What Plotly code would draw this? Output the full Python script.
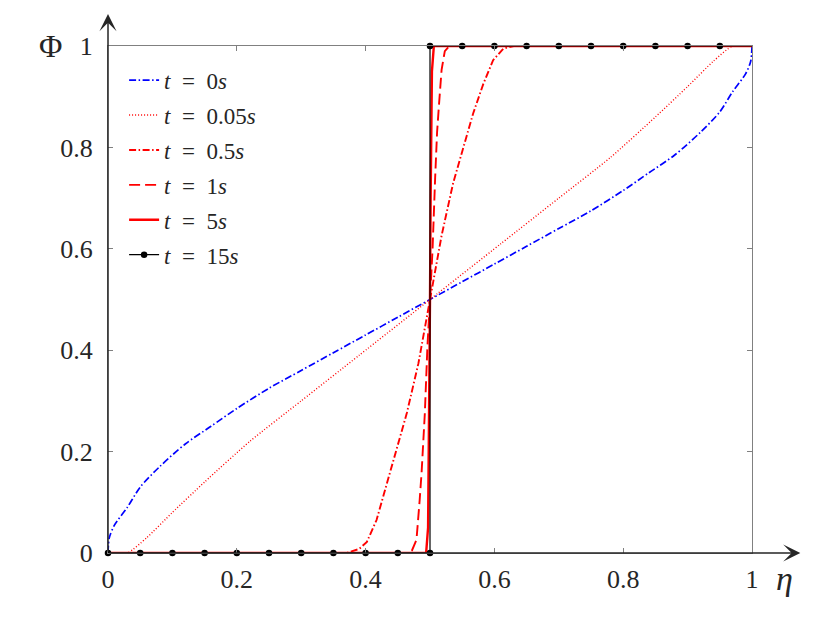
import plotly.graph_objects as go

# profiles of phi along eta
eta_t0 = [0, 0.002, 0.01, 0.03, 0.05, 0.08, 0.12, 0.16, 0.2, 0.25, 0.3, 0.35, 0.4, 0.45, 0.5,
          0.55, 0.6, 0.65, 0.7, 0.75, 0.8, 0.84, 0.88, 0.92, 0.95, 0.97, 0.99, 0.998, 1]
phi_t0 = [0, 0.03, 0.055, 0.09, 0.13, 0.17, 0.215, 0.25, 0.285, 0.325, 0.36, 0.395, 0.43, 0.465, 0.5,
          0.535, 0.57, 0.605, 0.64, 0.675, 0.715, 0.75, 0.785, 0.83, 0.87, 0.91, 0.945, 0.97, 1]

eta_t005 = [0, 0.03, 0.06, 0.1, 0.15, 0.22, 0.3, 0.39, 0.5, 0.61, 0.7, 0.78, 0.85, 0.9, 0.94, 0.97, 1]
phi_t005 = [0, 0, 0.03, 0.08, 0.14, 0.22, 0.3, 0.39, 0.5, 0.61, 0.7, 0.78, 0.86, 0.92, 0.97, 1, 1]

eta_t05 = [0, 0.37, 0.39, 0.402, 0.417, 0.435, 0.45, 0.464, 0.482, 0.5, 0.518, 0.536, 0.552,
           0.567, 0.583, 0.598, 0.614, 0.63, 0.65, 1]
phi_t05 = [0, 0, 0.008, 0.022, 0.065, 0.144, 0.21, 0.276, 0.374, 0.5, 0.626, 0.73, 0.8,
           0.867, 0.926, 0.972, 0.995, 1, 1, 1]

eta_t1 = [0, 0.465, 0.472, 0.479, 0.484, 0.487, 0.492, 0.496, 0.5, 0.504, 0.508, 0.511, 0.514,
          0.518, 0.523, 0.53, 1]
phi_t1 = [0, 0, 0.005, 0.026, 0.105, 0.16, 0.276, 0.407, 0.5, 0.6, 0.74, 0.83, 0.885,
          0.953, 0.99, 1, 1]

eta_t5 = [0, 0.494, 0.497, 0.499, 0.5, 0.501, 0.503, 0.506, 1]
phi_t5 = [0, 0, 0.05, 0.3, 0.5, 0.7, 0.95, 1, 1]

eta_t15 = [0, 0.05, 0.1, 0.15, 0.2, 0.25, 0.3, 0.35, 0.4, 0.45, 0.5,
           0.5, 0.55, 0.6, 0.65, 0.7, 0.75, 0.8, 0.85, 0.9, 0.95]
phi_t15 = [0, 0, 0, 0, 0, 0, 0, 0, 0, 0, 0,
           1, 1, 1, 1, 1, 1, 1, 1, 1, 1]
eta_t15_end = [0.95, 1]
phi_t15_end = [1, 1]

tick_vals = [0, 0.2, 0.4, 0.6, 0.8, 1]
tick_text = ['0', '0.2', '0.4', '0.6', '0.8', '1']
times = ['0', '0.05', '0.5', '1', '5', '15']

serif = 'Liberation Serif'
labels = ['<i>t</i>  =  %s<i>s</i>' % t for t in times]

fig = go.Figure()

fig.add_trace(go.Scatter(x=eta_t0, y=phi_t0, mode='lines', name=labels[0],
                         line=dict(color='#0000ff', width=1.7, dash='7px,2.5px,1.5px,2.5px',
                                   shape='spline', smoothing=0.8),
                         legendgroup='a'))
fig.add_trace(go.Scatter(x=eta_t005, y=phi_t005, mode='lines', name=labels[1],
                         line=dict(color='#ff0000', width=1.4, dash='1px,2px',
                                   shape='spline', smoothing=0.6),
                         legendgroup='b'))
fig.add_trace(go.Scatter(x=eta_t05, y=phi_t05, mode='lines', name=labels[2],
                         line=dict(color='#ff0000', width=1.9, dash='7px,2.5px,1.5px,2.5px'),
                         legendgroup='c'))
fig.add_trace(go.Scatter(x=eta_t1, y=phi_t1, mode='lines', name=labels[3],
                         line=dict(color='#ff0000', width=1.9, dash='11px,5px'),
                         legendgroup='d'))
fig.add_trace(go.Scatter(x=eta_t5, y=phi_t5, mode='lines', name=labels[4],
                         line=dict(color='#ff0000', width=2.4), cliponaxis=False,
                         legendgroup='e'))
fig.add_trace(go.Scatter(x=eta_t15, y=phi_t15, mode='lines+markers', name=labels[5],
                         line=dict(color='#000000', width=1.2),
                         marker=dict(color='#000000', size=6.5), cliponaxis=False,
                         legendgroup='f'))
fig.add_trace(go.Scatter(x=eta_t15_end, y=phi_t15_end, mode='lines', showlegend=False,
                         line=dict(color='#000000', width=1.2), cliponaxis=False))

axis_style = dict(range=[0, 1], tickvals=tick_vals, ticktext=tick_text,
                  ticks='inside', ticklen=5, tickcolor='#808080', tickwidth=1,
                  showline=True, linecolor='#808080', linewidth=1, mirror='ticks',
                  showgrid=False, zeroline=False,
                  tickfont=dict(family=serif, size=26, color='#262626'))

# page body adds 8px, so the figure is 8px smaller than the window
fig.update_layout(
    width=822, height=615,
    margin=dict(l=100, r=78, t=38, b=70),
    paper_bgcolor='white', plot_bgcolor='white',
    xaxis=dict(**axis_style, ticklabelstandoff=3),
    yaxis=dict(**axis_style, ticklabelstandoff=9),
    legend=dict(x=0.025, y=0.975, xanchor='left', yanchor='top',
                bgcolor='rgba(0,0,0,0)', borderwidth=0,
                font=dict(family=serif, size=23, color='#262626'),
                traceorder='grouped', tracegroupgap=2),
    showlegend=True,
)

# axis arrows and axis labels
fig.add_annotation(x=1.075, y=0, ax=0, ay=0, xref='x', yref='y', axref='x', ayref='y',
                   text='', showarrow=True, arrowhead=3, arrowsize=1.9, arrowwidth=1.5,
                   arrowcolor='#262626')
fig.add_annotation(x=0, y=1.063, ax=0, ay=0, xref='x', yref='y', axref='x', ayref='y',
                   text='', showarrow=True, arrowhead=3, arrowsize=1.9, arrowwidth=1.5,
                   arrowcolor='#262626')
fig.add_annotation(x=1.051, y=-0.05, xref='paper', yref='paper', text='<i>η</i>', showarrow=False,
                   xanchor='center', yanchor='middle',
                   font=dict(family=serif, size=34, color='#262626'))
fig.add_annotation(x=-0.09, y=1.0, xref='paper', yref='paper', text='Φ', showarrow=False,
                   xanchor='center', yanchor='middle',
                   font=dict(family=serif, size=32, color='#262626'))

fig.write_html('out.html')
